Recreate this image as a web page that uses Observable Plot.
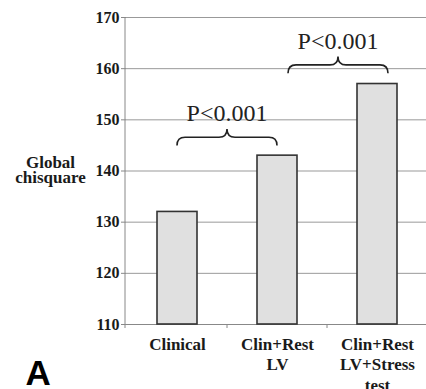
<!DOCTYPE html>
<html><head><meta charset="utf-8">
<script src="https://cdn.jsdelivr.net/npm/d3@7"></script>
<script src="https://cdn.jsdelivr.net/npm/@observablehq/plot@0.6"></script>
<style>body{margin:0;background:#fff}
svg text{font-family:"Liberation Serif","Times New Roman",serif}
svg .letter text{font-family:"Liberation Sans",Arial,sans-serif;font-weight:700}</style>
</head><body><div id="chart"></div>
<script>
const categories = ["Clinical", "Clin+Rest\nLV", "Clin+Rest\nLV+Stress\ntest"];
const chisquare = [132, 143, 157];
const yBase = 110;
const yTicks = [110, 120, 130, 140, 150, 160, 170];
const yLabel = "Global\nchisquare";
const panelLetter = "A";
// significance braces between consecutive models
const braceFrom = [0, 1];
const braceTo = [1, 2];
const braceShift = [0, 0.11];      // shift in band steps
const braceBase = [144.9, 159.0];  // y of brace ends
const braceTip = [148.1, 162.3];   // y of brace tip
const braceText = ["P<0.001", "P<0.001"];
const braceTextY = [149.6, 163.8];

const bars = categories.map((c, i) => ({cat: c, value: chisquare[i], base: yBase}));

function annotations(index, scales, values, dimensions) {
  const X = scales.x, Y = scales.y;
  const bw = X.bandwidth ? X.bandwidth() : 0;
  const step = X.step ? X.step() : bw;
  const cx = i => X(categories[i]) + bw / 2;
  const g = d3.create("svg:g");
  // y axis line
  g.append("line")
    .attr("x1", dimensions.marginLeft - 1).attr("x2", dimensions.marginLeft - 1)
    .attr("y1", Y(yTicks[yTicks.length - 1])).attr("y2", Y(yBase) + 4)
    .attr("stroke", "#888");
  // x tick marks at category boundaries
  for (let i = 0; i < categories.length - 1; i++) {
    const bx = (cx(i) + cx(i + 1)) / 2;
    g.append("line").attr("x1", bx).attr("x2", bx)
      .attr("y1", Y(yBase)).attr("y2", Y(yBase) + 4).attr("stroke", "#888");
  }
  braceFrom.forEach((f, k) => {
    const x1 = cx(f) + braceShift[k] * step;
    const x2 = cx(braceTo[k]) + braceShift[k] * step;
    const yb = Y(braceBase[k]), yt = Y(braceTip[k]);
    const ym = (yb + yt) / 2;
    const xm = (x1 + x2) / 2;
    const r = 8;
    const p = `M${x1},${yb} Q${x1},${ym} ${x1 + r},${ym} L${xm - r},${ym} Q${xm},${ym} ${xm},${yt} Q${xm},${ym} ${xm + r},${ym} L${x2 - r},${ym} Q${x2},${ym} ${x2},${yb}`;
    g.append("path").attr("d", p).attr("fill", "none").attr("stroke", "#222").attr("stroke-width", 1.6);
    g.append("text").attr("x", xm).attr("y", Y(braceTextY[k]))
      .attr("text-anchor", "middle").attr("font-size", 24)
      .attr("fill", "#222").text(braceText[k]);
  });
  return g.node();
}

const chart = Plot.plot({
  width: 426,
  height: 389,
  marginTop: 17,
  marginBottom: 65,
  marginLeft: 126,
  marginRight: -2,
  style: {background: "#fff", color: "#1a1a1a"},
  x: {type: "band", domain: categories, paddingInner: 0.6, paddingOuter: 0.3, label: null},
  y: {domain: [110, 170], label: null},
  marks: [
    Plot.ruleY(yTicks.slice(1), {stroke: "#999", strokeOpacity: 1}),
    Plot.ruleY([yBase], {stroke: "#888"}),
    Plot.barY(bars, {x: "cat", y1: "base", y2: "value", fill: "#e0e0e0", stroke: "#333", strokeWidth: 1.6}),
    Plot.axisY({ticks: yTicks, tickSize: 5, tickPadding: 2, fontSize: 16, fontWeight: "bold", label: null, stroke: "#888"}),
    Plot.axisX({tickSize: 0, tickPadding: 11, fontSize: 17, fontWeight: "bold", lineHeight: 1.2, label: null}),
    Plot.text([{t: yLabel, y: 140}], {text: "t", y: "y", frameAnchor: "left", dx: -76, textAnchor: "middle", lineAnchor: "middle", lineHeight: 0.84, fontSize: 17, fontWeight: "bold", fill: "#1a1a1a"}),
    Plot.text([panelLetter], {text: d => d, frameAnchor: "bottom-left", dx: -101, dy: 60, textAnchor: "start", lineAnchor: "bottom", fontSize: 35, fill: "#000", className: "letter"}),
    annotations
  ]
});
document.getElementById("chart").append(chart);
</script>
</body></html>
